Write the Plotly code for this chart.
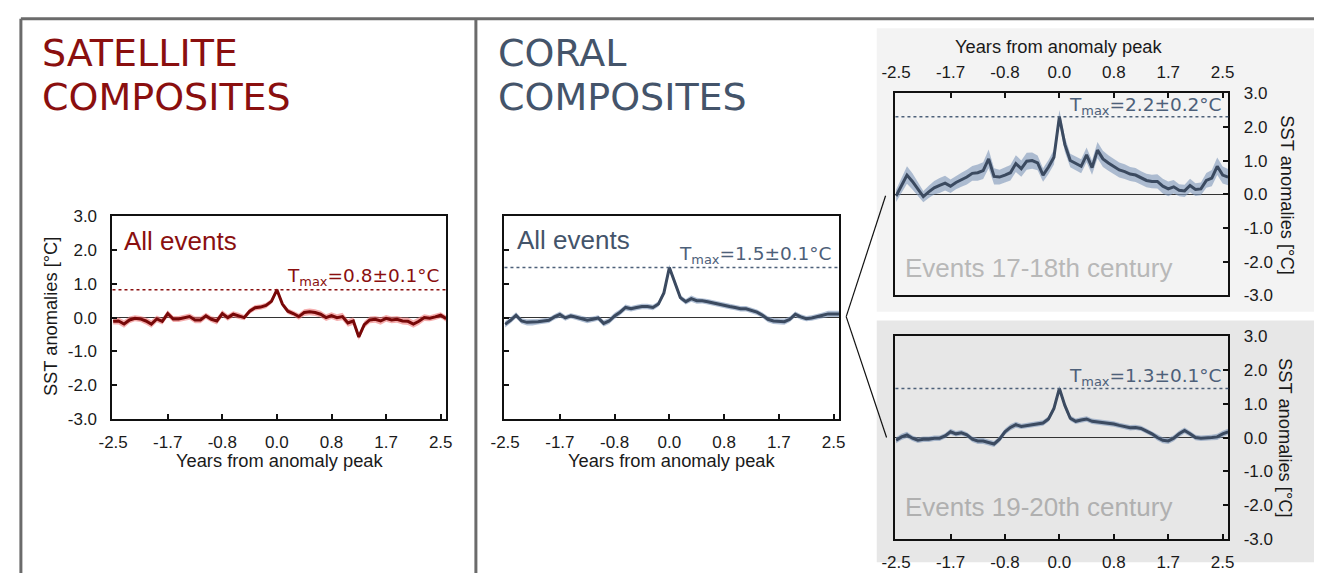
import plotly.graph_objects as go

W, H = 1320, 583

# ---------------- data ----------------
months = list(range(-30, 32))            # monthly steps relative to anomaly peak
years = [m / 12 for m in months]

x_tick_vals = [-2.5, -5 / 3, -5 / 6, 0, 5 / 6, 5 / 3, 2.5]
x_tick_text = ["-2.5", "-1.7", "-0.8", "0.0", "0.8", "1.7", "2.5"]
y_tick_vals = [3, 2, 1, 0, -1, -2, -3]
y_tick_text = ["3.0", "2.0", "1.0", "0.0", "-1.0", "-2.0", "-3.0"]

sat_mean = [-0.11, -0.10, -0.19, -0.07, -0.02, -0.04, -0.10, -0.19, -0.04, -0.11,
            0.12, -0.04, -0.04, 0.00, 0.03, -0.07, -0.07, 0.05, -0.05, -0.10,
            0.12, 0.00, 0.10, 0.05, 0.00, 0.19, 0.29, 0.31, 0.36, 0.48,
            0.82, 0.40, 0.19, 0.12, 0.03, 0.15, 0.17, 0.15, 0.10, 0.00,
            0.06, 0.00, 0.03, -0.16, -0.10, -0.57, -0.21, -0.07, -0.05, -0.10,
            -0.02, -0.07, -0.05, -0.10, -0.11, -0.19, -0.11, 0.00, -0.02, 0.02,
            0.07, -0.03]
sat_err = [0.09, 0.10, 0.11, 0.10, 0.09, 0.09, 0.10, 0.11, 0.10, 0.09,
           0.10, 0.09, 0.09, 0.09, 0.09, 0.10, 0.10, 0.09, 0.09, 0.10,
           0.10, 0.09, 0.09, 0.09, 0.08, 0.08, 0.08, 0.08, 0.08, 0.07,
           0.06, 0.07, 0.08, 0.08, 0.09, 0.10, 0.10, 0.10, 0.10, 0.10,
           0.10, 0.10, 0.11, 0.11, 0.11, 0.09, 0.10, 0.10, 0.10, 0.11,
           0.10, 0.10, 0.10, 0.10, 0.11, 0.11, 0.11, 0.10, 0.09, 0.09,
           0.09, 0.09]

coral_all_mean = [-0.20, -0.08, 0.07, -0.10, -0.14, -0.14, -0.12, -0.10, -0.08, 0.02,
                  0.09, -0.01, 0.05, 0.01, -0.03, -0.08, -0.05, -0.01, -0.17, -0.10,
                  0.05, 0.16, 0.30, 0.26, 0.30, 0.33, 0.33, 0.30, 0.40, 0.73,
                  1.48, 1.02, 0.59, 0.47, 0.56, 0.50, 0.50, 0.47, 0.43, 0.40,
                  0.35, 0.33, 0.30, 0.26, 0.26, 0.21, 0.16, 0.07, -0.05, -0.10,
                  -0.12, -0.12, -0.05, 0.10, 0.02, -0.03, -0.01, 0.02, 0.07, 0.11,
                  0.11, 0.11]
coral_all_err = [0.09, 0.09, 0.09, 0.08, 0.09, 0.09, 0.08, 0.08, 0.08, 0.08,
                 0.09, 0.08, 0.08, 0.08, 0.08, 0.09, 0.08, 0.08, 0.09, 0.09,
                 0.09, 0.09, 0.09, 0.08, 0.08, 0.08, 0.08, 0.08, 0.08, 0.08,
                 0.09, 0.09, 0.08, 0.08, 0.09, 0.09, 0.08, 0.08, 0.08, 0.08,
                 0.08, 0.08, 0.08, 0.08, 0.08, 0.08, 0.08, 0.08, 0.09, 0.09,
                 0.09, 0.09, 0.08, 0.08, 0.08, 0.08, 0.08, 0.08, 0.08, 0.09,
                 0.09, 0.09]

c17_mean = [-0.05, 0.24, 0.57, 0.38, 0.14, -0.07, 0.07, 0.19, 0.26, 0.33,
            0.24, 0.35, 0.43, 0.51, 0.62, 0.64, 0.70, 1.05, 0.53, 0.51,
            0.57, 0.64, 0.91, 0.76, 0.98, 1.00, 0.93, 0.57, 0.81, 1.10,
            2.30, 1.48, 1.00, 0.91, 0.83, 1.17, 0.79, 1.31, 1.05, 0.93,
            0.83, 0.72, 0.67, 0.60, 0.57, 0.48, 0.41, 0.38, 0.38, 0.24,
            0.16, 0.22, 0.12, 0.10, 0.26, 0.14, 0.16, 0.41, 0.48, 0.83,
            0.57, 0.51]
c17_err = [0.18, 0.22, 0.26, 0.24, 0.20, 0.17, 0.18, 0.20, 0.22, 0.22,
           0.20, 0.20, 0.21, 0.22, 0.22, 0.24, 0.25, 0.28, 0.24, 0.22,
           0.22, 0.23, 0.25, 0.24, 0.25, 0.24, 0.22, 0.20, 0.21, 0.22,
           0.20, 0.22, 0.20, 0.20, 0.21, 0.22, 0.21, 0.24, 0.24, 0.23,
           0.22, 0.22, 0.22, 0.21, 0.21, 0.20, 0.20, 0.20, 0.21, 0.22,
           0.22, 0.20, 0.18, 0.18, 0.20, 0.19, 0.19, 0.22, 0.24, 0.26,
           0.25, 0.24]

c19_mean = [-0.08, 0.02, 0.08, -0.02, -0.08, -0.05, -0.05, -0.02, -0.02, 0.05,
            0.17, 0.11, 0.14, 0.08, -0.05, -0.10, -0.10, -0.14, -0.19, -0.05,
            0.17, 0.30, 0.38, 0.33, 0.36, 0.38, 0.40, 0.43, 0.55, 0.86,
            1.45, 0.95, 0.57, 0.48, 0.52, 0.55, 0.48, 0.46, 0.43, 0.43,
            0.40, 0.36, 0.33, 0.29, 0.30, 0.27, 0.19, 0.11, 0.00, -0.08,
            -0.10, -0.02, 0.11, 0.21, 0.11, 0.00, -0.02, -0.02, 0.00, 0.02,
            0.11, 0.17]
c19_err = [0.09, 0.09, 0.09, 0.08, 0.08, 0.08, 0.08, 0.08, 0.08, 0.08,
           0.09, 0.08, 0.08, 0.08, 0.08, 0.09, 0.09, 0.09, 0.09, 0.09,
           0.09, 0.09, 0.09, 0.08, 0.08, 0.08, 0.08, 0.08, 0.08, 0.08,
           0.09, 0.09, 0.08, 0.08, 0.08, 0.08, 0.08, 0.08, 0.08, 0.08,
           0.08, 0.08, 0.08, 0.08, 0.08, 0.08, 0.08, 0.08, 0.09, 0.09,
           0.09, 0.09, 0.09, 0.09, 0.08, 0.08, 0.08, 0.08, 0.08, 0.09,
           0.09, 0.09]

tmax_labels = ["T<sub>max</sub>=0.8±0.1°C", "T<sub>max</sub>=1.5±0.1°C",
               "T<sub>max</sub>=2.2±0.2°C", "T<sub>max</sub>=1.3±0.1°C"]

# ---------------- styling ----------------
RED = "#8a0f0f"
RED_LINE = "#780808"
RED_BAND = "rgba(238,120,120,0.6)"
SLATE = "#44546a"
SLATE_T = "#4d6079"
SLATE_LINE = "#3b4a60"
SLATE_BAND = "rgba(125,150,185,0.6)"
SANS = "Liberation Sans, Arial, sans-serif"
VSANS = "DejaVu Sans, Verdana, sans-serif"


def fx(x):
    return x / W


def fy(y):
    return 1 - y / H


# panel pixel boxes: (left, right, top, bottom)
panels = [
    dict(box=(100, 439, 214, 424)),
    dict(box=(498, 838, 214, 424)),
    dict(box=(895, 1233, 87, 296)),
    dict(box=(895, 1233, 338, 548)),
]
series = [
    (sat_mean, sat_err, RED_LINE, RED_BAND),
    (coral_all_mean, coral_all_err, SLATE_LINE, SLATE_BAND),
    (c17_mean, c17_err, SLATE_LINE, SLATE_BAND),
    (c19_mean, c19_err, SLATE_LINE, SLATE_BAND),
]

fig = go.Figure()
layout = dict(
    width=W, height=H, margin=dict(l=0, r=0, t=0, b=0),
    paper_bgcolor="white", plot_bgcolor="white", showlegend=False,
)
shapes = []
annotations = []

x_range = [-2.51, years[-1] + 0.003]

for i, (p, (mean, err, lc, bc)) in enumerate(zip(panels, series), start=1):
    xa = "x" if i == 1 else f"x{i}"
    ya = "y" if i == 1 else f"y{i}"
    upper = [m + e for m, e in zip(mean, err)]
    lower = [m - e for m, e in zip(mean, err)]
    fig.add_trace(go.Scatter(x=years, y=lower, xaxis=xa, yaxis=ya, mode="lines",
                             line=dict(width=0, color=bc), hoverinfo="skip"))
    fig.add_trace(go.Scatter(x=years, y=upper, xaxis=xa, yaxis=ya, mode="lines",
                             line=dict(width=0, color=bc), fill="tonexty",
                             fillcolor=bc, hoverinfo="skip"))
    fig.add_trace(go.Scatter(x=years, y=mean, xaxis=xa, yaxis=ya, mode="lines",
                             line=dict(width=3, color=lc)))
    l, r, t, b = p["box"]
    xside = "top" if i == 3 else "bottom"
    yside = "right" if i >= 3 else "left"
    layout["xaxis" if i == 1 else f"xaxis{i}"] = dict(
        domain=[fx(l), fx(r)], anchor=ya, range=x_range, side=xside,
        showline=True, mirror=True, linecolor="#111", linewidth=2,
        showgrid=False, zeroline=False,
        tickmode="array", tickvals=x_tick_vals, ticktext=x_tick_text,
        ticks="inside", ticklen=5, tickwidth=1.5, tickcolor="#111",
        showticklabels=True, ticklabelstandoff=6,
        tickfont=dict(family=SANS, size=17, color="#1a1a1a"),
    )
    layout["yaxis" if i == 1 else f"yaxis{i}"] = dict(
        domain=[fy(b), fy(t)], anchor=xa, range=[-3, 3], side=yside,
        showline=True, mirror=True, linecolor="#111", linewidth=2,
        showgrid=False, zeroline=True, zerolinecolor="#333", zerolinewidth=1.2,
        tickmode="array", tickvals=y_tick_vals, ticktext=y_tick_text,
        ticks="inside", ticklen=5, tickwidth=1.5, tickcolor="#111",
        showticklabels=(i != 2), ticklabelstandoff=10,
        tickfont=dict(family=SANS, size=17, color="#1a1a1a"),
    )
    tcol = RED if i == 1 else SLATE_T
    shapes.append(dict(type="line", xref=f"{xa} domain", yref=ya, x0=0, x1=1,
                       y0=max(mean), y1=max(mean),
                       line=dict(color=tcol, width=1.5, dash="dot")))

tmax_pos = [(435, 277), (833, 254), (1229, 100), (1229, 380)]
for (x, y), txt, col in zip(tmax_pos, tmax_labels, [RED, SLATE_T, SLATE_T, SLATE_T]):
    annotations.append(dict(text=txt, x=fx(x), y=fy(y), xref="paper", yref="paper",
                            xanchor="right", yanchor="middle", showarrow=False,
                            font=dict(family=VSANS, size=18.5, color=col)))

shapes.insert(0, dict(type="rect", xref="paper", yref="paper", layer="below",
                      x0=fx(876), x1=fx(1320), y0=fy(313), y1=fy(20),
                      fillcolor="#f3f3f3", line=dict(width=0)))
shapes.insert(1, dict(type="rect", xref="paper", yref="paper", layer="below",
                      x0=fx(876), x1=fx(1320), y0=fy(572), y1=fy(322),
                      fillcolor="#e7e7e7", line=dict(width=0)))

for (x0, y0, x1, y1) in [(7, 10, 1320, 10), (7, 10, 7, 583), (469, 10, 469, 583)]:
    shapes.append(dict(type="line", xref="paper", yref="paper",
                       x0=fx(x0), y0=fy(y0), x1=fx(x1), y1=fy(y1),
                       line=dict(color="#6b6b6b", width=3)))
for (x0, y0, x1, y1) in [(845, 318, 885, 193), (845, 318, 886, 443)]:
    shapes.append(dict(type="line", xref="paper", yref="paper",
                       x0=fx(x0), y0=fy(y0), x1=fx(x1), y1=fy(y1),
                       line=dict(color="#111", width=1.2)))

for txt, x, y, col in [("SATELLITE", 26, 45, RED), ("COMPOSITES", 26, 91, RED),
                       ("CORAL", 489, 45, SLATE), ("COMPOSITES", 489, 91, SLATE)]:
    annotations.append(dict(text=txt, x=fx(x), y=fy(y), xref="paper", yref="paper",
                            xanchor="left", yanchor="middle", showarrow=False,
                            font=dict(family=VSANS, size=38, color=col)))

for txt, x, y, col in [("All events", 110, 240, RED), ("All events", 509, 239, SLATE),
                       ("Events 17-18th century", 903, 268, "#b8b8b8"),
                       ("Events 19-20th century", 903, 515, "#b0b0b0")]:
    annotations.append(dict(text=txt, x=fx(x), y=fy(y), xref="paper", yref="paper",
                            xanchor="left", yanchor="middle", showarrow=False,
                            font=dict(family=SANS, size=26, color=col)))

for txt, x, y, ang in [("Years from anomaly peak", 270, 467, 0),
                       ("Years from anomaly peak", 668, 467, 0),
                       ("Years from anomaly peak", 1061, 39, 0),
                       ("SST anomalies [°C]", 37, 318, -90),
                       ("SST anomalies [°C]", 1293, 192, 90),
                       ("SST anomalies [°C]", 1291, 443, 90)]:
    annotations.append(dict(text=txt, x=fx(x), y=fy(y), xref="paper", yref="paper",
                            xanchor="center", yanchor="middle", showarrow=False,
                            textangle=ang,
                            font=dict(family=SANS, size=18.3, color="#1a1a1a")))

layout["shapes"] = shapes
layout["annotations"] = annotations
fig.update_layout(**layout)
fig.write_html(
    "out.html",
    config={"displayModeBar": False},
    post_script="document.body.style.margin='0';document.body.style.overflow='hidden';",
)
